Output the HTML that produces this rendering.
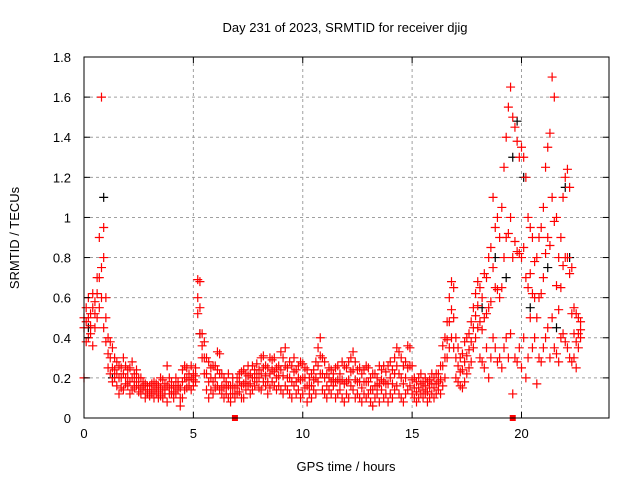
<!DOCTYPE html>
<html><head><meta charset="utf-8"><style>
body{margin:0;background:#fff;}
svg text{font-family:"Liberation Sans",sans-serif;font-size:13px;fill:#000;}
</style></head><body>
<svg id="chart" width="640" height="480">
<rect width="640" height="480" fill="#fff"/>
<text x="345" y="32" text-anchor="middle">Day 231 of 2023, SRMTID for receiver djig</text>
<g id="grid"></g><g id="marks"></g><g id="axes"></g>
<text x="346" y="471" text-anchor="middle">GPS time / hours</text>
<text transform="translate(19,238) rotate(-90)" text-anchor="middle">SRMTID / TECUs</text>
</svg>
<script>
const xTicks=[0,5,10,15,20];
const yTicks=[0,0.2,0.4,0.6,0.8,1,1.2,1.4,1.6,1.8];
const hiVals=[0.50,0.55,0.60,0.52,0.62,0.58,0.70,0.90,1.60,0.95,0.60,0.40,0.38,0.35,0.30,0.28,0.26,0.25,0.30,0.26,0.24,0.25,0.28,0.22,0.24,0.20,0.20,0.18,0.17,0.16,0.16,0.17,0.18,0.17,0.16,0.20,0.19,0.17,0.26,0.20,0.18,0.16,0.20,0.18,0.15,0.24,0.26,0.25,0.22,0.26,0.22,0.25,0.69,0.68,0.42,0.38,0.30,0.28,0.25,0.26,0.26,0.33,0.32,0.22,0.20,0.18,0.22,0.16,0.20,0.15,0.20,0.22,0.23,0.24,0.22,0.26,0.22,0.26,0.24,0.27,0.24,0.30,0.31,0.26,0.25,0.30,0.29,0.30,0.25,0.26,0.33,0.30,0.35,0.25,0.28,0.26,0.30,0.24,0.26,0.28,0.27,0.25,0.24,0.20,0.22,0.24,0.28,0.35,0.40,0.30,0.28,0.22,0.25,0.24,0.22,0.25,0.26,0.22,0.28,0.26,0.25,0.28,0.30,0.33,0.28,0.24,0.25,0.22,0.24,0.26,0.25,0.20,0.22,0.22,0.20,0.26,0.24,0.26,0.23,0.26,0.28,0.24,0.30,0.35,0.33,0.30,0.26,0.28,0.36,0.35,0.26,0.20,0.18,0.20,0.22,0.18,0.20,0.18,0.19,0.22,0.20,0.22,0.22,0.26,0.36,0.40,0.48,0.60,0.68,0.65,0.40,0.35,0.30,0.32,0.38,0.40,0.42,0.48,0.55,0.62,0.68,0.65,0.60,0.72,0.70,0.80,0.85,1.10,0.95,1.00,0.90,1.05,1.25,1.40,1.55,1.65,1.50,1.45,1.38,1.30,1.35,1.30,1.20,1.00,0.95,0.90,0.78,0.80,0.90,0.95,1.05,1.25,1.35,1.42,1.70,1.60,1.00,0.80,0.90,1.10,1.20,1.24,1.15,0.75,0.55,0.52,0.50,0.48];
const loVals=[0.20,0.38,0.40,0.42,0.36,0.45,0.50,0.55,0.60,0.45,0.38,0.25,0.22,0.18,0.20,0.16,0.12,0.15,0.14,0.17,0.16,0.12,0.14,0.15,0.16,0.13,0.12,0.14,0.10,0.12,0.11,0.12,0.10,0.12,0.10,0.11,0.10,0.12,0.08,0.12,0.12,0.10,0.12,0.14,0.06,0.10,0.14,0.15,0.16,0.14,0.16,0.18,0.52,0.42,0.30,0.22,0.14,0.10,0.14,0.12,0.15,0.16,0.14,0.12,0.10,0.12,0.10,0.08,0.12,0.10,0.12,0.13,0.10,0.10,0.14,0.16,0.12,0.14,0.16,0.18,0.15,0.14,0.18,0.16,0.12,0.15,0.18,0.16,0.14,0.16,0.14,0.12,0.16,0.14,0.12,0.10,0.16,0.12,0.14,0.10,0.12,0.15,0.08,0.12,0.10,0.14,0.12,0.18,0.22,0.14,0.12,0.10,0.14,0.12,0.16,0.10,0.12,0.14,0.10,0.08,0.12,0.10,0.16,0.14,0.10,0.12,0.10,0.08,0.12,0.10,0.12,0.08,0.06,0.10,0.12,0.08,0.14,0.10,0.12,0.08,0.12,0.10,0.14,0.16,0.12,0.10,0.08,0.12,0.14,0.16,0.12,0.10,0.08,0.10,0.12,0.10,0.12,0.08,0.10,0.12,0.10,0.12,0.14,0.12,0.16,0.20,0.30,0.35,0.40,0.35,0.20,0.18,0.16,0.15,0.18,0.22,0.25,0.28,0.35,0.40,0.45,0.30,0.28,0.25,0.35,0.20,0.30,0.40,0.35,0.28,0.30,0.25,0.35,0.40,0.30,0.42,0.12,0.30,0.28,0.35,0.25,0.40,0.20,0.30,0.50,0.35,0.40,0.17,0.30,0.28,0.35,0.40,0.45,0.30,0.50,0.35,0.32,0.28,0.40,0.42,0.38,0.35,0.30,0.28,0.30,0.25,0.35,0.40];
const midVals=[0.45,0.48,0.50,0.46,0.55,0.52,0.62,0.70,0.75,0.80,0.50,0.32,0.30,0.25,0.24,0.22,0.20,0.20,0.22,0.20,0.20,0.18,0.20,0.18,0.20,0.16,0.15,0.16,0.14,0.14,0.13,0.14,0.14,0.15,0.13,0.15,0.14,0.14,0.16,0.15,0.15,0.13,0.16,0.16,0.10,0.18,0.20,0.20,0.19,0.20,0.19,0.21,0.60,0.55,0.36,0.30,0.22,0.18,0.20,0.18,0.20,0.24,0.22,0.16,0.15,0.15,0.16,0.12,0.16,0.12,0.16,0.18,0.16,0.17,0.18,0.21,0.17,0.20,0.20,0.22,0.20,0.22,0.25,0.21,0.18,0.22,0.24,0.23,0.20,0.21,0.24,0.21,0.26,0.20,0.20,0.18,0.23,0.18,0.20,0.19,0.20,0.20,0.16,0.16,0.16,0.19,0.20,0.26,0.31,0.22,0.20,0.16,0.20,0.18,0.19,0.18,0.19,0.18,0.19,0.17,0.18,0.19,0.23,0.24,0.19,0.18,0.18,0.15,0.18,0.18,0.18,0.14,0.14,0.16,0.16,0.17,0.19,0.18,0.17,0.17,0.20,0.17,0.22,0.26,0.22,0.20,0.17,0.20,0.25,0.26,0.19,0.15,0.13,0.15,0.17,0.14,0.16,0.13,0.15,0.17,0.15,0.17,0.18,0.19,0.26,0.30,0.39,0.48,0.54,0.50,0.30,0.26,0.23,0.24,0.28,0.31,0.34,0.38,0.45,0.51,0.56,0.48,0.44,0.50,0.52,0.55,0.58,0.75,0.65,0.64,0.60,0.65,0.80,0.90,0.92,1.00,0.80,0.88,0.83,0.82,0.80,0.85,0.70,0.65,0.72,0.62,0.60,0.50,0.60,0.62,0.70,0.82,0.90,0.86,1.10,0.98,0.66,0.54,0.65,0.76,0.80,0.80,0.72,0.52,0.42,0.38,0.42,0.44];
const blackTimes=[0.2,0.9,1.3,5.3,18.2,18.8,19.3,19.6,19.8,20.1,20.4,21.2,21.6,22.0,22.2];
const blackVals=[0.45,1.10,0.20,0.42,0.55,0.80,0.70,1.30,1.48,1.20,0.55,0.75,0.45,1.15,0.80];
const zeroTimes=[6.9,19.6];
const zeroVals=[0,0];

const L=84,R=609,T=57,B=418,XMAX=24,YMAX=1.8;
const xs=t=>L+(t/XMAX)*(R-L);
const ys=v=>B-(v/YMAX)*(B-T);
const NS='http://www.w3.org/2000/svg';
function mk(tag,attrs,parent){const e=document.createElementNS(NS,tag);for(const k in attrs)e.setAttribute(k,attrs[k]);parent.appendChild(e);return e;}
const grid=document.getElementById('grid'),axes=document.getElementById('axes'),marks=document.getElementById('marks');
xTicks.forEach(t=>{
  const x=xs(t);
  if(t>0){const g=mk('line',{x1:x,x2:x,y1:T,y2:B,stroke:'#a0a0a0','stroke-dasharray':'3,3'},grid);
  
  }
  mk('line',{x1:x,x2:x,y1:B,y2:B-6,stroke:'#000'},axes);
  mk('line',{x1:x,x2:x,y1:T,y2:T+6,stroke:'#000'},axes);
  const tx=mk('text',{x:x,y:B+20,'text-anchor':'middle'},axes);tx.textContent=t;
  
  
});
yTicks.forEach(v=>{
  const y=ys(v);
  if(v>0&&v<YMAX){const g=mk('line',{x1:L,x2:R,y1:y,y2:y,stroke:'#a0a0a0','stroke-dasharray':'3,3'},grid);
  
  }
  mk('line',{x1:L,x2:L+6,y1:y,y2:y,stroke:'#000'},axes);
  mk('line',{x1:R,x2:R-6,y1:y,y2:y,stroke:'#000'},axes);
  const tx=mk('text',{x:L-13,y:y+5,'text-anchor':'end'},axes);tx.textContent=v;
  
  
});
const frame=mk('rect',{x:L,y:T,width:R-L,height:B-T,fill:'none',stroke:'#000'},axes);


function plus(t,v,color,parent){
  const x=xs(t),y=ys(v);
  const p=mk('path',{d:`M${x-4.5},${y}H${x+4.5}M${x},${y-4.5}V${y+4.5}`,stroke:color,'stroke-width':1.2,fill:'none'},parent);
  
  
}
const blackG=mk('g',{},marks);


const redG=mk('g',{},marks);


[hiVals,loVals,midVals].forEach(arr=>arr.forEach((v,i)=>plus(i/10,v,'#f00',redG)));
blackTimes.forEach((t,i)=>plus(t,blackVals[i],'#000',blackG));
zeroTimes.forEach((t,i)=>{
  const r=mk('rect',{x:xs(t)-3,y:ys(zeroVals[i])-3,width:6,height:6,fill:'#f00'},redG);
  
  
});
</script>
</body></html>
